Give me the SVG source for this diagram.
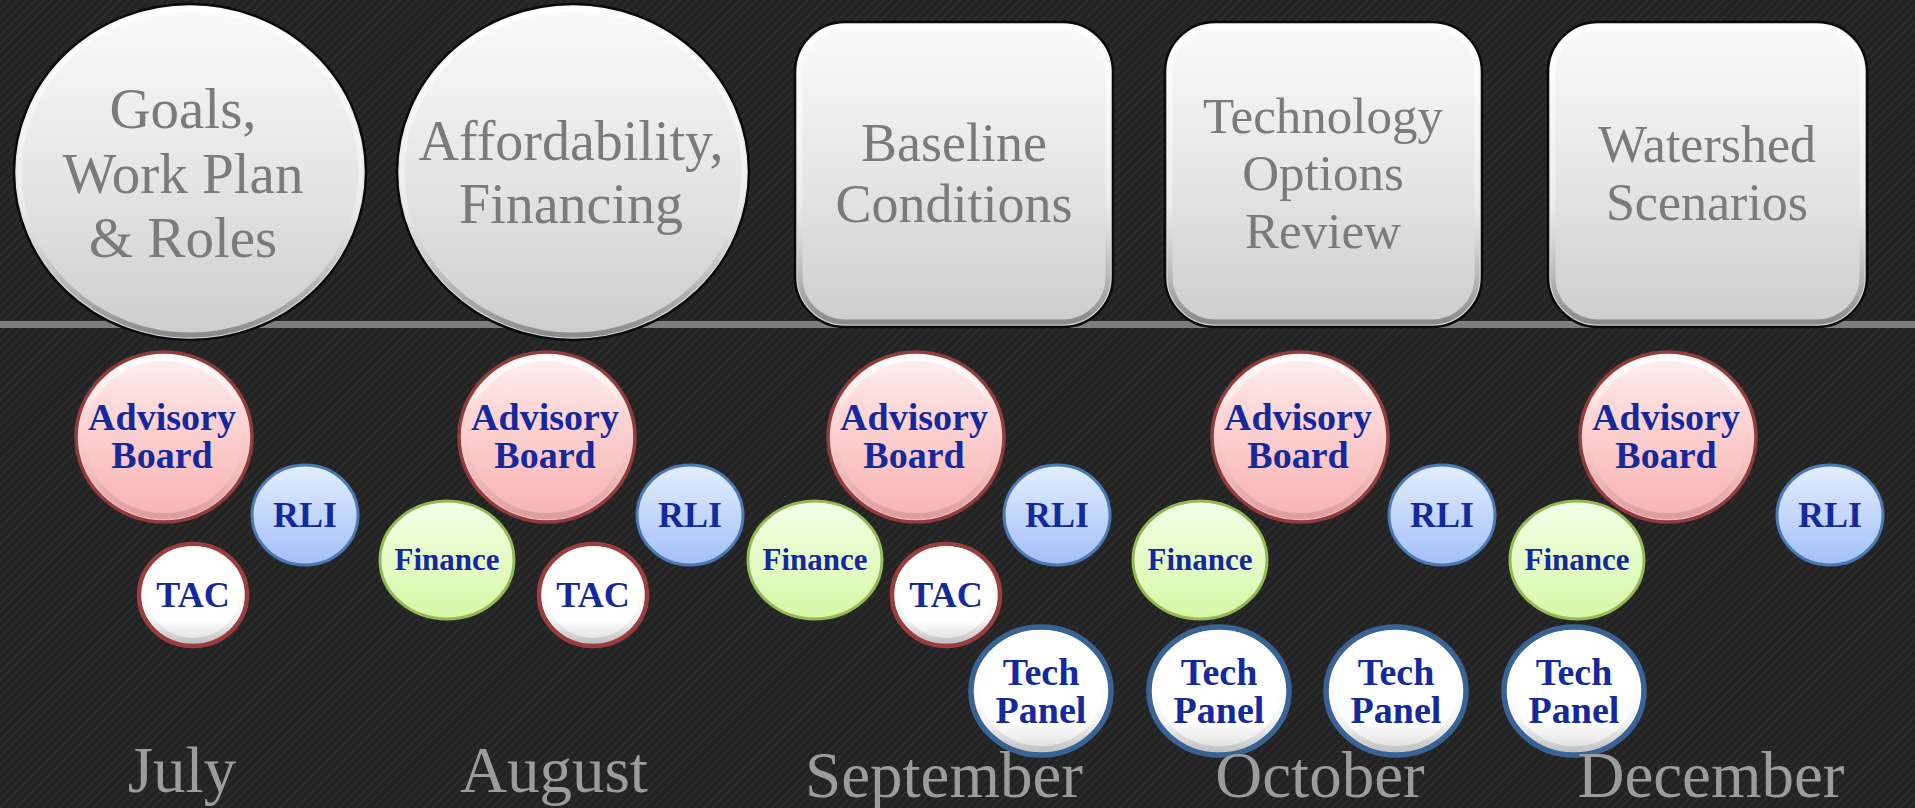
<svg xmlns="http://www.w3.org/2000/svg" width="1915" height="808" viewBox="0 0 1915 808">
<defs>
  <pattern id="bgpat" width="6" height="6" patternUnits="userSpaceOnUse" patternTransform="rotate(45)">
    <rect width="6" height="6" fill="#232323"/>
    <rect width="2" height="6" fill="#2b2b2b"/>
  </pattern>
  <linearGradient id="gBig" x1="0" y1="0" x2="0" y2="1">
    <stop offset="0" stop-color="#fbfbfb"/>
    <stop offset="0.5" stop-color="#e6e6e6"/>
    <stop offset="1" stop-color="#cdcdcd"/>
  </linearGradient>
  <linearGradient id="gBevel" x1="0" y1="0" x2="0" y2="1">
    <stop offset="0" stop-color="#ffffff"/>
    <stop offset="0.6" stop-color="#f2f2f2" stop-opacity="0.6"/>
    <stop offset="1" stop-color="#8a8a8a"/>
  </linearGradient>
  <linearGradient id="gPink" x1="0" y1="0" x2="0" y2="1">
    <stop offset="0" stop-color="#fff2f2"/>
    <stop offset="0.35" stop-color="#fcd6d6"/>
    <stop offset="1" stop-color="#f8b2b2"/>
  </linearGradient>
  <linearGradient id="gBlue" x1="0" y1="0" x2="0" y2="1">
    <stop offset="0" stop-color="#e4eeff"/>
    <stop offset="1" stop-color="#a2c0f6"/>
  </linearGradient>
  <linearGradient id="gGreen" x1="0" y1="0" x2="0" y2="1">
    <stop offset="0" stop-color="#f3ffe8"/>
    <stop offset="1" stop-color="#d6f7a6"/>
  </linearGradient>
  <linearGradient id="gWhite" x1="0" y1="0" x2="0" y2="1">
    <stop offset="0" stop-color="#ffffff"/>
    <stop offset="0.75" stop-color="#ffffff"/>
    <stop offset="1" stop-color="#d8d8d8"/>
  </linearGradient>
  <linearGradient id="gShine" x1="0" y1="0" x2="0" y2="1">
    <stop offset="0" stop-color="#ffffff" stop-opacity="0.95"/>
    <stop offset="0.35" stop-color="#ffffff" stop-opacity="0"/>
    <stop offset="1" stop-color="#000000" stop-opacity="0.12"/>
  </linearGradient>
  <style>
    .big { fill: url(#gBig); stroke: #0a0a0a; stroke-width: 2.5; }
    .bevel { fill: none; stroke: url(#gBevel); stroke-width: 5; }
    .bigtxt { font-family: "Liberation Serif", serif; fill: #7b7b7b; text-anchor: middle; }
    .ab { fill: url(#gPink); stroke: #8e3c3c; stroke-width: 3.5; }
    .rli { fill: url(#gBlue); stroke: #4a79b6; stroke-width: 3; }
    .fin { fill: url(#gGreen); stroke: #94b954; stroke-width: 3; }
    .tac { fill: url(#gWhite); stroke: #9a3d3d; stroke-width: 4.5; }
    .tp { fill: url(#gWhite); stroke: #3a6395; stroke-width: 5.5; }
    .shine { fill: none; stroke: url(#gShine); stroke-width: 6; }
    .lbl { font-family: "Liberation Serif", serif; font-weight: bold; fill: #14299c; text-anchor: middle; font-size: 38px; }
    .sm { font-size: 36px; }
    .fl { font-size: 31px; }
    .mon { font-family: "Liberation Serif", serif; fill: #9c9c9c; text-anchor: middle; font-size: 65px; }
  </style>
</defs>

<rect x="0" y="0" width="1915" height="808" fill="url(#bgpat)"/>

<g id="connectors">
  <rect x="0" y="321" width="1915" height="7" fill="#7d7d7d"/>
</g>

<g id="goals">
  <ellipse class="big" cx="190" cy="172" rx="176" ry="168"/>
  <ellipse class="bevel" cx="190" cy="172" rx="171" ry="163"/>
  <text class="bigtxt" font-size="57" x="183" y="128">Goals,</text>
  <text class="bigtxt" font-size="57" x="183" y="193">Work Plan</text>
  <text class="bigtxt" font-size="57" x="183" y="257">&amp; Roles</text>
</g>
<g id="affordability">
  <ellipse class="big" cx="573" cy="172" rx="176" ry="168"/>
  <ellipse class="bevel" cx="573" cy="172" rx="171" ry="163"/>
  <text class="bigtxt" font-size="56" x="571" y="160">Affordability,</text>
  <text class="bigtxt" font-size="56" x="571" y="223">Financing</text>
</g>
<g id="baseline">
  <rect class="big" x="795" y="22" width="318" height="305" rx="50"/>
  <rect class="bevel" x="800" y="27" width="308" height="295" rx="45"/>
  <text class="bigtxt" font-size="54" x="954" y="161">Baseline</text>
  <text class="bigtxt" font-size="54" x="954" y="222">Conditions</text>
</g>
<g id="technology">
  <rect class="big" x="1165" y="22" width="317" height="305" rx="50"/>
  <rect class="bevel" x="1170" y="27" width="307" height="295" rx="45"/>
  <text class="bigtxt" font-size="51" x="1323" y="133">Technology</text>
  <text class="bigtxt" font-size="51" x="1323" y="190">Options</text>
  <text class="bigtxt" font-size="51" x="1323" y="248">Review</text>
</g>
<g id="watershed">
  <rect class="big" x="1548" y="22" width="319" height="305" rx="50"/>
  <rect class="bevel" x="1553" y="27" width="309" height="295" rx="45"/>
  <text class="bigtxt" font-size="52" x="1707" y="162">Watershed</text>
  <text class="bigtxt" font-size="52" x="1707" y="220">Scenarios</text>
</g>

<!-- July -->
<g id="jul-ab">
  <ellipse class="ab" cx="164" cy="437" rx="88" ry="85"/>
  <ellipse class="shine" cx="164" cy="437" rx="82" ry="79"/>
  <text class="lbl" x="162" y="430">Advisory</text>
  <text class="lbl" x="162" y="468">Board</text>
</g>
<g id="jul-rli">
  <ellipse class="rli" cx="305" cy="515" rx="53" ry="50"/>
  <text class="lbl sm" x="305" y="527">RLI</text>
</g>
<g id="jul-tac">
  <ellipse class="tac" cx="193" cy="595" rx="54" ry="51"/>
  <ellipse class="shine" cx="193" cy="595" rx="49" ry="46"/>
  <text class="lbl sm" x="193" y="607">TAC</text>
</g>

<!-- August -->
<g id="aug-ab">
  <ellipse class="ab" cx="547" cy="437" rx="88" ry="85"/>
  <ellipse class="shine" cx="547" cy="437" rx="82" ry="79"/>
  <text class="lbl" x="545" y="430">Advisory</text>
  <text class="lbl" x="545" y="468">Board</text>
</g>
<g id="aug-fin">
  <ellipse class="fin" cx="447" cy="560" rx="67" ry="59"/>
  <text class="lbl fl" x="447" y="570">Finance</text>
</g>
<g id="aug-tac">
  <ellipse class="tac" cx="593" cy="595" rx="54" ry="51"/>
  <ellipse class="shine" cx="593" cy="595" rx="49" ry="46"/>
  <text class="lbl sm" x="593" y="607">TAC</text>
</g>
<g id="aug-rli">
  <ellipse class="rli" cx="690" cy="515" rx="53" ry="50"/>
  <text class="lbl sm" x="690" y="527">RLI</text>
</g>

<!-- September -->
<g id="sep-ab">
  <ellipse class="ab" cx="916" cy="437" rx="88" ry="85"/>
  <ellipse class="shine" cx="916" cy="437" rx="82" ry="79"/>
  <text class="lbl" x="914" y="430">Advisory</text>
  <text class="lbl" x="914" y="468">Board</text>
</g>
<g id="sep-fin">
  <ellipse class="fin" cx="815" cy="560" rx="67" ry="59"/>
  <text class="lbl fl" x="815" y="570">Finance</text>
</g>
<g id="sep-tac">
  <ellipse class="tac" cx="946" cy="595" rx="54" ry="51"/>
  <ellipse class="shine" cx="946" cy="595" rx="49" ry="46"/>
  <text class="lbl sm" x="946" y="607">TAC</text>
</g>
<g id="sep-rli">
  <ellipse class="rli" cx="1057" cy="515" rx="53" ry="50"/>
  <text class="lbl sm" x="1057" y="527">RLI</text>
</g>
<g id="sep-tp">
  <ellipse class="tp" cx="1041" cy="691" rx="70" ry="64"/>
  <ellipse class="shine" cx="1041" cy="691" rx="64" ry="58"/>
  <text class="lbl" x="1041" y="685">Tech</text>
  <text class="lbl" x="1041" y="723">Panel</text>
</g>

<!-- October -->
<g id="oct-ab">
  <ellipse class="ab" cx="1300" cy="437" rx="88" ry="85"/>
  <ellipse class="shine" cx="1300" cy="437" rx="82" ry="79"/>
  <text class="lbl" x="1298" y="430">Advisory</text>
  <text class="lbl" x="1298" y="468">Board</text>
</g>
<g id="oct-fin">
  <ellipse class="fin" cx="1200" cy="560" rx="67" ry="59"/>
  <text class="lbl fl" x="1200" y="570">Finance</text>
</g>
<g id="oct-rli">
  <ellipse class="rli" cx="1442" cy="515" rx="53" ry="50"/>
  <text class="lbl sm" x="1442" y="527">RLI</text>
</g>
<g id="oct-tp1">
  <ellipse class="tp" cx="1219" cy="691" rx="70" ry="64"/>
  <ellipse class="shine" cx="1219" cy="691" rx="64" ry="58"/>
  <text class="lbl" x="1219" y="685">Tech</text>
  <text class="lbl" x="1219" y="723">Panel</text>
</g>
<g id="oct-tp2">
  <ellipse class="tp" cx="1396" cy="691" rx="70" ry="64"/>
  <ellipse class="shine" cx="1396" cy="691" rx="64" ry="58"/>
  <text class="lbl" x="1396" y="685">Tech</text>
  <text class="lbl" x="1396" y="723">Panel</text>
</g>

<!-- December -->
<g id="dec-ab">
  <ellipse class="ab" cx="1668" cy="437" rx="88" ry="85"/>
  <ellipse class="shine" cx="1668" cy="437" rx="82" ry="79"/>
  <text class="lbl" x="1666" y="430">Advisory</text>
  <text class="lbl" x="1666" y="468">Board</text>
</g>
<g id="dec-fin">
  <ellipse class="fin" cx="1577" cy="560" rx="67" ry="59"/>
  <text class="lbl fl" x="1577" y="570">Finance</text>
</g>
<g id="dec-rli">
  <ellipse class="rli" cx="1830" cy="515" rx="53" ry="50"/>
  <text class="lbl sm" x="1830" y="527">RLI</text>
</g>
<g id="dec-tp">
  <ellipse class="tp" cx="1574" cy="691" rx="70" ry="64"/>
  <ellipse class="shine" cx="1574" cy="691" rx="64" ry="58"/>
  <text class="lbl" x="1574" y="685">Tech</text>
  <text class="lbl" x="1574" y="723">Panel</text>
</g>

<g id="months">
  <text class="mon" x="182" y="792">July</text>
  <text class="mon" x="554" y="792">August</text>
  <text class="mon" x="944" y="797">September</text>
  <text class="mon" x="1320" y="797">October</text>
  <text class="mon" x="1711" y="797">December</text>
</g>
</svg>
